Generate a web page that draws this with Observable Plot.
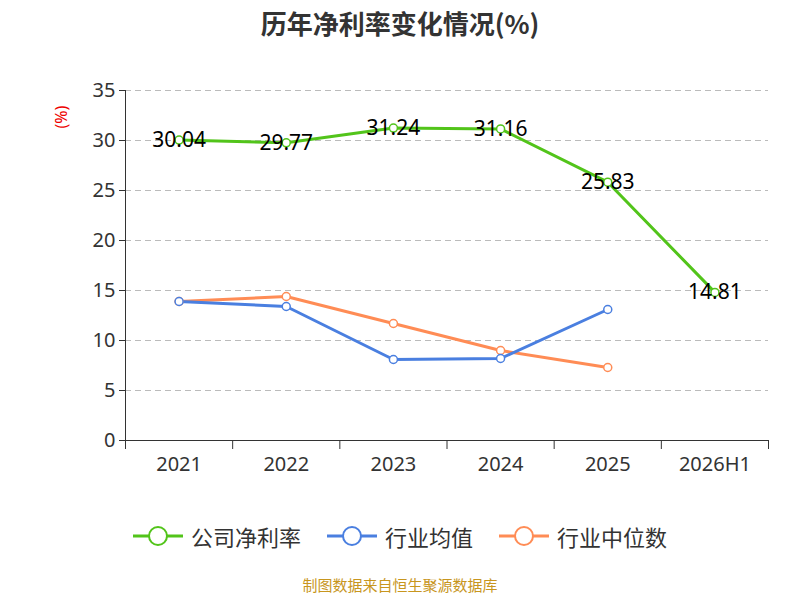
<!DOCTYPE html>
<html><head><meta charset="utf-8">
<script src="https://cdn.jsdelivr.net/npm/d3@7"></script>
<script src="https://cdn.jsdelivr.net/npm/@observablehq/plot@0.6"></script>
<style>
body{margin:0;width:800px;font-family:"Noto Sans CJK SC","Noto Sans",sans-serif;background:#fff}
#title{height:45px;line-height:46px;text-align:center;font-size:26px;font-weight:bold;color:#333}
#legend{display:flex;justify-content:center;gap:26px;margin-top:20px;font-size:22px;color:#333;height:32px;align-items:center}
.li{display:flex;align-items:center;gap:8px}
#cap{text-align:center;color:#c8961e;font-size:15px;margin-top:22px}
</style></head><body>
<div id="title">历年净利率变化情况(%)</div>
<div id="chart"></div>
<div id="legend"></div>
<div id="cap">制图数据来自恒生聚源数据库</div>
<script>
const categories=["2021","2022","2023","2024","2025","2026H1"];
const company=[30.04,29.77,31.24,31.16,25.83,14.81];
const industryAvg=[13.9,13.4,8.1,8.2,13.1];
const industryMedian=[13.9,14.4,11.7,9.0,7.3];
const yTicks=[0,5,10,15,20,25,30,35];
const names=["公司净利率","行业均值","行业中位数"];
const colors=["#52c41a","#4a7fe0","#ff8c55"];

const mk=(arr,s)=>arr.map((v,i)=>({i,v,s}));
const cData=mk(company,names[0]),aData=mk(industryAvg,names[1]),mData=mk(industryMedian,names[2]);
const bounds=d3.range(categories.length+1).map(i=>i-0.5);

const chart=Plot.plot({
  width:800,height:455,marginLeft:125,marginRight:32,marginTop:45,marginBottom:60,
  x:{domain:[-0.5,categories.length-0.5],ticks:d3.range(categories.length),tickFormat:i=>categories[i],tickSize:0,tickPadding:16,label:null,fontSize:20},
  y:{domain:[0,35],ticks:yTicks,tickSize:6,label:null,tickPadding:4},
  style:{fontSize:"20px",color:"#333",fontFamily:"Noto Sans, sans-serif"},
  marks:[
    Plot.ruleY(yTicks.filter(t=>t>0),{stroke:"#bbb",strokeDasharray:"6,4"}),
    Plot.axisX({ticks:d3.range(categories.length),tickFormat:i=>categories[i],tickSize:0,tickPadding:16,fontSize:20,label:null}),
    Plot.axisY({ticks:yTicks,tickSize:6,tickPadding:4,fontSize:20,label:null}),
    Plot.ruleY([0],{stroke:"#333"}),
    Plot.ruleX(bounds,{y1:0,y2:-0.9,stroke:"#333"}),
    Plot.ruleX([-0.5],{y1:0,y2:35,stroke:"#333"}),
    Plot.line(mData,{x:"i",y:"v",stroke:colors[2],strokeWidth:3}),
    Plot.line(aData,{x:"i",y:"v",stroke:colors[1],strokeWidth:3}),
    Plot.line(cData,{x:"i",y:"v",stroke:colors[0],strokeWidth:3}),
    Plot.dot(mData,{x:"i",y:"v",stroke:colors[2],fill:"#fff",r:4,strokeWidth:1.5}),
    Plot.dot(aData,{x:"i",y:"v",stroke:colors[1],fill:"#fff",r:4,strokeWidth:1.5}),
    Plot.dot(cData,{x:"i",y:"v",stroke:colors[0],fill:"#fff",r:4,strokeWidth:1.5}),
    Plot.text(cData,{x:"i",y:"v",text:d=>d.v.toFixed(2),fill:"#000",fontSize:21,dy:0}),
    Plot.text(["(%)"],{frameAnchor:"top-left",dx:-70,dy:38,rotate:-90,fill:"#e00",fontSize:16})
  ]
});
document.getElementById("chart").append(chart);

const lg=document.getElementById("legend");
names.forEach((n,k)=>{
  const d=document.createElement("div");d.className="li";
  d.innerHTML=`<svg width="50" height="24"><line x1="0" x2="50" y1="12" y2="12" stroke="${colors[k]}" stroke-width="3"/><circle cx="25" cy="12" r="9" fill="#fff" stroke="${colors[k]}" stroke-width="2"/></svg><span>${n}</span>`;
  lg.append(d);
});
</script></body></html>
